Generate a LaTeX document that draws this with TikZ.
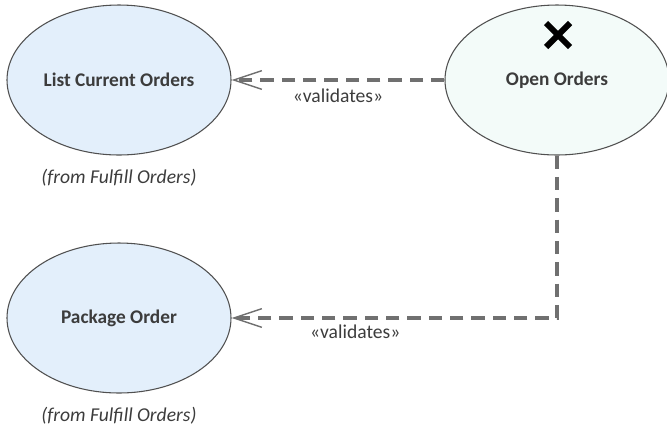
\documentclass[tikz,border=0pt]{standalone}
\usepackage{fontspec}
\setmainfont{Carlito}
\usetikzlibrary{positioning,arrows.meta,shapes.geometric}
\definecolor{ucblue}{HTML}{E3EFFB}
\definecolor{ucmint}{HTML}{F3FBF9}
\definecolor{ucline}{HTML}{505050}
\definecolor{dashgray}{HTML}{707070}
\definecolor{ucText}{HTML}{3C3C3C}

\begin{document}
\begin{tikzpicture}[
  x=0.75pt, y=-0.75pt,
  uc/.style={ellipse, draw=ucline, line width=0.8pt, fill=ucblue,
    minimum width=168pt, minimum height=112.5pt, inner sep=0pt,
    font=\fontsize{14.5}{16}\selectfont\bfseries, text=ucText},
  from/.style={font=\fontsize{14.7}{16}\selectfont\itshape, text=ucText},
  dep/.style={dashgray, line width=2.4pt, dash pattern=on 10pt off 6pt,
    -{Straight Barb[length=21pt, width=14pt, line width=1.1pt]}},
  stereo/.style={font=\fontsize{14.7}{16}\selectfont, text=ucText}
]
\useasboundingbox (0,0) rectangle (667,430);

\node[uc] (lco) at (119, 80) {List Current Orders};
\node[uc, fill=ucmint] (oo) at (557, 80) {Open Orders};
\node[uc] (po) at (119, 318) {Package Order};

\node[from, below=7pt of lco] (lcofrom) {(from Fulfill Orders)};
\node[from, below=7pt of po] (pofrom) {(from Fulfill Orders)};

% destroyed marker
\draw[line width=4.5pt] (546, 23) -- (570, 47);
\draw[line width=4.5pt] (570, 23) -- (546, 47);

\draw[dep] (oo) -- node[stereo, below=2pt] (v1) {«validates»} (lco);
\draw[dep] (oo.south) |- node[stereo, below=1pt, pos=0.81] (v2) {«validates»} (po.east);

\end{tikzpicture}
\end{document}
